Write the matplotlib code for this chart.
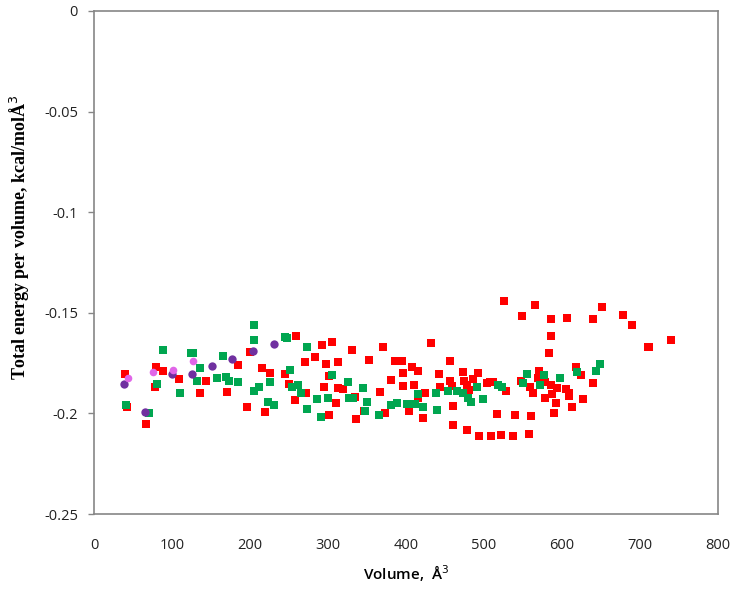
import numpy as np
import matplotlib.pyplot as plt

# red series
red_x = [39.7, 41.9, 79.5, 88.9, 78.6, 66.2, 109.4, 143.6, 135.5, 170.5, 185, 199.6,
         215.4, 226, 245.3, 250.4, 195.7, 219.6, 257.7, 258.5,
         292.7, 305.6, 283.8, 270.9, 297, 313.2, 330.8, 352.6, 370.5, 385.9, 394.5,
         407.7, 415.4, 395.7, 432.5, 456, 442.3, 473.1, 491.9, 486.3, 474, 456.8,
         380.8, 396.6, 409.9, 367.1, 424, 415.4, 443.6, 459.4, 477.8, 481.2, 503.4,
         294.9, 313.2, 319.7, 301.7, 271.8, 334.2, 310.3, 346.2, 301.3, 335.9, 373.1,
         403.4, 421.4, 460.3, 460.3, 477.8, 494,
         525.3, 565, 549.1, 585.9, 606.4, 639.4, 651.7, 677.8, 689.4, 710.3, 739.4,
         585.9, 582.9, 617.6, 624.4, 639.7, 570.1, 568.8, 547.4, 578.2, 507.7, 511.1,
         527.8, 559, 562.4, 585.9, 593.6, 586.8, 605.1, 609.4, 608.6, 578.2, 592.7,
         627.3, 613.2, 517.1, 539.7, 559.8, 590.2, 509, 522, 537, 558, 712]
red_y = [-0.1806, -0.1967, -0.1771, -0.1788, -0.1867, -0.2051, -0.1831, -0.1839,
         -0.1897, -0.1894, -0.1758, -0.1695, -0.1774, -0.1801, -0.1806, -0.1855,
         -0.1967, -0.1993, -0.1933, -0.1615,
         -0.166, -0.1643, -0.1718, -0.1746, -0.1754, -0.1743, -0.1686, -0.1735,
         -0.1672, -0.1741, -0.1738, -0.1769, -0.1791, -0.1799, -0.1652, -0.1741,
         -0.1803, -0.1794, -0.1799, -0.1827, -0.1837, -0.1837,
         -0.1834, -0.1864, -0.1859, -0.1894, -0.1897, -0.1925, -0.187, -0.1864,
         -0.1859, -0.1884, -0.185,
         -0.187, -0.1875, -0.188, -0.1814, -0.1897, -0.1917, -0.1947, -0.1987,
         -0.201, -0.203, -0.1996, -0.1987, -0.2023, -0.1965, -0.2059, -0.2082, -0.2111,
         -0.1443, -0.1461, -0.1514, -0.1529, -0.1524, -0.1529, -0.147, -0.1512,
         -0.1559, -0.167, -0.1635,
         -0.1615, -0.17, -0.1769, -0.1811, -0.1847, -0.1789, -0.1826, -0.1839,
         -0.1842, -0.1842, -0.1842,
         -0.1887, -0.1867, -0.1897, -0.1859, -0.1875, -0.1904, -0.188, -0.1897,
         -0.1913, -0.1925, -0.195,
         -0.1928, -0.1967, -0.2005, -0.2006, -0.2015, -0.1998, -0.211, -0.2105,
         -0.2112, -0.2102, -0.1668]

# green series
green_x = [41, 70.9, 80.4, 88, 109.8, 124.4, 127.3, 135.9, 132.4, 157.3, 165.4, 169.2,
           172.7, 185, 205.5, 211.1, 205.1, 225.6, 223.5, 230.3, 244.4, 250.8, 253.8,
           261.9, 205, 248,
           272.6, 305.6, 265, 285.5, 300.4, 272.6, 290.6, 325.2, 326.5, 331.6, 344.4,
           349.6, 347.4, 365.8, 380.8, 388.1, 401.7, 407.3, 411.9, 415, 422.2, 439.3,
           438.5, 453.8, 465, 473.5, 479, 483.3, 491.5, 499.1,
           555.6, 576.5, 597.4, 618.8, 644, 649.1, 550.4, 571.4, 518.4, 522.7]
green_y = [-0.1958, -0.1998, -0.1855, -0.1685, -0.1897, -0.1701, -0.1701, -0.1773,
           -0.1839, -0.1824, -0.1715, -0.1821, -0.1837, -0.1844, -0.1635, -0.187,
           -0.1889, -0.1844, -0.1942, -0.1958, -0.1622, -0.1784, -0.187, -0.1859,
           -0.156, -0.1625,
           -0.1672, -0.1811, -0.19, -0.1928, -0.1925, -0.1978, -0.2019, -0.1846,
           -0.1922, -0.1925, -0.1872, -0.1942, -0.1988, -0.2006, -0.1957, -0.195,
           -0.1953, -0.1953, -0.1953, -0.1905, -0.1967, -0.1983, -0.19, -0.189,
           -0.1889, -0.19, -0.1925, -0.1942, -0.1867, -0.193,
           -0.1806, -0.1809, -0.1822, -0.1794, -0.1789, -0.1754, -0.185, -0.1861,
           -0.1859, -0.1867]

# purple series
purple_x = [38.9, 65, 100.4, 125.6, 151.7, 176.9, 204.3, 231.2]
purple_y = [-0.1855, -0.1991, -0.1804, -0.1803, -0.1766, -0.1728, -0.169, -0.1654]

# pink series
pink_x = [44, 76, 100.9, 126.5]
pink_y = [-0.1826, -0.1793, -0.1784, -0.1741]

fig = plt.figure(figsize=(7.34, 5.91), dpi=100)
ax = fig.add_axes([94 / 734, 77 / 591, 624 / 734, 503 / 591])

ax.scatter(red_x, red_y, marker='s', s=26, c='#ff0000', linewidths=0, zorder=3)
ax.scatter(green_x, green_y, marker='s', s=26, c='#00a650', linewidths=0, zorder=4)
ax.scatter(purple_x, purple_y, marker='o', s=36, c='#7030a0', linewidths=0, zorder=5)
ax.scatter(pink_x, pink_y, marker='o', s=30, c='#e066e8', linewidths=0, zorder=6)

ax.set_xlim(0, 800)
ax.set_ylim(-0.25, 0)
ax.set_xticks(np.arange(0, 801, 100))
ax.set_yticks([0, -0.05, -0.1, -0.15, -0.2, -0.25])
ax.set_yticklabels(['0', '-0.05', '-0.1', '-0.15', '-0.2', '-0.25'])

for s in ax.spines.values():
    s.set_color('#868686')
    s.set_linewidth(1.2)

ax.tick_params(axis='x', length=0, pad=17, labelsize=10.5, labelcolor='#222222')
ax.tick_params(axis='y', length=4.5, width=1, color='#868686', pad=7,
               labelsize=10.5, labelcolor='#222222')
for lab in ax.get_xticklabels() + ax.get_yticklabels():
    lab.set_family('Open Sans')

ax.set_xlabel('Volume,  Å$^3$', fontsize=11, fontweight='semibold',
              family='Open Sans')
ax.xaxis.set_label_coords(0.5, -0.098)
ax.set_ylabel('Total energy per volume, kcal/molÅ$^3$', fontsize=13,
              fontweight='bold', family='Liberation Serif')
ax.yaxis.set_label_coords(-0.1, 0.55)

fig.savefig('out.png', dpi=100)
